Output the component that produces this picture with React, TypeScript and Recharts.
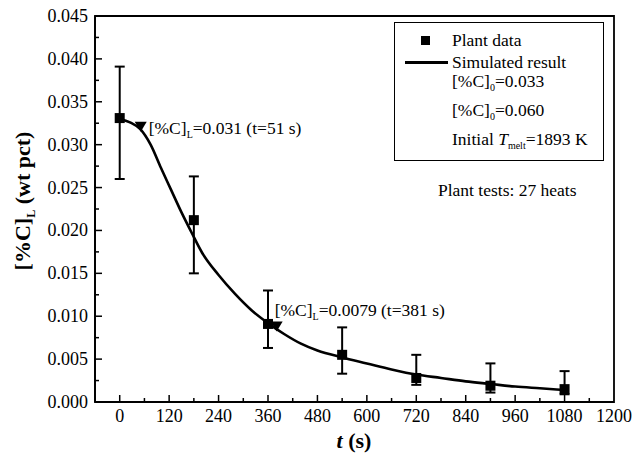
import React from 'react';
import {
  ComposedChart, Line, Scatter, ErrorBar, XAxis, YAxis, ReferenceArea
} from 'recharts';

// simulated result curve
const simT = [0, 25, 50, 75, 100, 125, 150, 175, 200, 240, 280, 320, 360, 400, 440, 480, 540, 600, 660, 720, 780, 840, 900, 960, 1020, 1080];
const simC = [0.0330, 0.0326, 0.0318, 0.0300, 0.0273, 0.0247, 0.0221, 0.0197, 0.0174, 0.0148, 0.0126, 0.0107, 0.0092, 0.0079, 0.0068, 0.0060, 0.0052, 0.0045, 0.0038, 0.0032, 0.0028, 0.0024, 0.0021, 0.0018, 0.0016, 0.0014];

// plant data with error ranges
const plantT = [0, 180, 360, 540, 720, 900, 1080];
const plantC = [0.0331, 0.0212, 0.0091, 0.0055, 0.0028, 0.0019, 0.0015];
const plantLow = [0.0260, 0.0150, 0.0063, 0.0033, 0.0020, 0.0011, 0.0009];
const plantHigh = [0.0391, 0.0263, 0.0130, 0.0087, 0.0055, 0.0045, 0.0036];

// marked points
const markT = [51, 381];
const markC = [0.0321, 0.0088];
const markText = ['=0.031 (t=51 s)', '=0.0079 (t=381 s)'];

const xTicks = [0, 60, 120, 180, 240, 300, 360, 420, 480, 540, 600, 660, 720, 780, 840, 900, 960, 1020, 1080, 1140, 1200];
const yTicks = [0, 0.0025, 0.005, 0.0075, 0.01, 0.0125, 0.015, 0.0175, 0.02, 0.0225, 0.025, 0.0275, 0.03, 0.0325, 0.035, 0.0375, 0.04, 0.0425, 0.045];

const simData = simT.map((t, i) => ({ t, c: simC[i] }));
const plantData = plantT.map((t, i) => ({
  t,
  c: plantC[i],
  err: [plantC[i] - plantLow[i], plantHigh[i] - plantC[i]],
}));
const markData = markT.map((t, i) => ({ t, c: markC[i], text: markText[i] }));

const FONT = '"Liberation Serif", "Times New Roman", serif';
// label offsets relative to each triangle
const markOffsets = [{ dx: 8, dy: 7 }, { dx: -2, dy: -11 }];

const XTick = ({ x, y, payload }: any) => {
  const major = payload.value % 120 === 0;
  return (
    <g>
      {payload.value < 1200 && (
        <line x1={x} x2={x} y1={y} y2={y - (major ? 7 : 4)} stroke="#000" strokeWidth={1.5} />
      )}
      {major && (
        <text x={x} y={y + 20} textAnchor="middle" fontSize={18} fontFamily={FONT} fill="#000">
          {payload.value}
        </text>
      )}
    </g>
  );
};

const YTick = ({ x, y, payload, index }: any) => {
  const major = index % 2 === 0;
  return (
    <g>
      {payload.value < 0.045 && payload.value > 0 && (
        <line x1={x} x2={x + (major ? 7 : 4)} y1={y} y2={y} stroke="#000" strokeWidth={1.5} />
      )}
      {major && (
        <text x={x - 7} y={y + 6} textAnchor="end" fontSize={18} fontFamily={FONT} fill="#000">
          {payload.value.toFixed(3)}
        </text>
      )}
    </g>
  );
};

const SquareShape = ({ cx, cy }: any) => (
  <rect x={cx - 5} y={cy - 5} width={10} height={10} fill="#000" />
);

const TriangleShape = (props: any) => {
  const { cx, cy } = props;
  const text = props.text ?? props.payload?.text;
  const idx = markText.indexOf(text);
  const off = markOffsets[idx] ?? { dx: 8, dy: 7 };
  return (
    <g>
      <path d={`M${cx - 6},${cy - 5} L${cx + 6},${cy - 5} L${cx},${cy + 5} Z`} fill="#000" />
      <text x={cx + off.dx} y={cy + off.dy} fontSize={17.5} fontFamily={FONT} fill="#000">
        <tspan>[%C]</tspan>
        <tspan fontSize={10} dy={4}>L</tspan>
        <tspan dy={-4}>{text}</tspan>
      </text>
    </g>
  );
};

const row = (top: number): React.CSSProperties => ({
  position: 'absolute', left: 452, top: top - 11, height: 22, lineHeight: '22px',
  fontSize: 17.5, fontFamily: FONT, whiteSpace: 'nowrap', color: '#000',
});
const sub: React.CSSProperties = { fontSize: 10, verticalAlign: -4 };

export default function App() {
  return (
    <div style={{ position: 'absolute', left: 0, top: 0, width: 633, height: 453, background: '#fff' }}>
      <ComposedChart
        width={633}
        height={453}
        margin={{ top: 16, right: 19, left: 0, bottom: 0 }}
      >
        <XAxis
          dataKey="t"
          type="number"
          domain={[-60, 1200]}
          ticks={xTicks}
          interval={0}
          height={51}
          tickSize={0}
          tickMargin={0}
          tickLine={false}
          tick={<XTick />}
          axisLine={{ stroke: '#000', strokeWidth: 1.8 }}
          allowDataOverflow
        />
        <YAxis
          dataKey="c"
          type="number"
          domain={[0, 0.045]}
          ticks={yTicks}
          interval={0}
          width={95}
          tickSize={0}
          tickMargin={0}
          tickLine={false}
          tick={<YTick />}
          axisLine={{ stroke: '#000', strokeWidth: 1.8 }}
          allowDataOverflow
        />
        <ReferenceArea x1={-60} x2={1200} y1={0} y2={0.045} fill="none" stroke="#000" strokeWidth={1.8} />
        <Line
          data={simData}
          dataKey="c"
          type="monotone"
          stroke="#000"
          strokeWidth={2.6}
          dot={false}
          isAnimationActive={false}
        />
        <Scatter data={plantData} dataKey="c" shape={<SquareShape />} isAnimationActive={false}>
          <ErrorBar dataKey="err" direction="y" width={5} stroke="#000" strokeWidth={2} />
        </Scatter>
        <Scatter data={markData} dataKey="c" shape={<TriangleShape />} isAnimationActive={false} />
      </ComposedChart>

      {/* legend box */}
      <div style={{ position: 'absolute', left: 394, top: 22, width: 208, height: 137, border: '1.3px solid #000' }} />
      <div style={{ position: 'absolute', left: 421, top: 36, width: 9, height: 9, background: '#000' }} />
      <div style={row(40)}>Plant data</div>
      <div style={{ position: 'absolute', left: 405, top: 61, width: 43, height: 2.6, background: '#000' }} />
      <div style={row(62)}>Simulated result</div>
      <div style={row(81)}>[%C]<span style={sub}>0</span>=0.033</div>
      <div style={row(110)}>[%C]<span style={sub}>0</span>=0.060</div>
      <div style={row(139)}>Initial <i>T</i><span style={sub}>melt</span>=1893 K</div>
      <div style={{ ...row(190), left: 438 }}>Plant tests: 27 heats</div>

      {/* axis titles */}
      <div style={{
        position: 'absolute', left: 354, top: 441, transform: 'translate(-50%, -50%)',
        fontSize: 22, fontWeight: 'bold', fontFamily: FONT, whiteSpace: 'nowrap',
      }}>
        <i>t</i> (s)
      </div>
      <div style={{
        position: 'absolute', left: 24, top: 201, transform: 'translate(-50%, -50%) rotate(-90deg)',
        fontSize: 22, fontWeight: 'bold', fontFamily: FONT, whiteSpace: 'nowrap',
      }}>
        [%C]<span style={{ fontSize: 12, verticalAlign: -5 }}>L</span> (wt pct)
      </div>
    </div>
  );
}
